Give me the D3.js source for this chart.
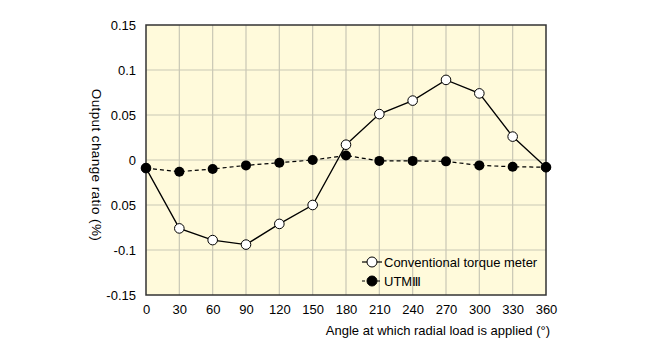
<!DOCTYPE html>
<html><head><meta charset="utf-8">
<script src="https://cdn.jsdelivr.net/npm/d3@7"></script>
<style>body{margin:0;background:#fff;} text{font-family:"Liberation Sans",Arial,sans-serif;}</style>
</head><body><svg id="c" width="650" height="350"></svg>
<script>
const angles = [0,30,60,90,120,150,180,210,240,270,300,330,360];
const conventional = [-0.009,-0.076,-0.089,-0.094,-0.071,-0.050,0.017,0.051,0.066,0.089,0.074,0.026,-0.008];
const utm = [-0.009,-0.013,-0.010,-0.006,-0.003,0.000,0.005,-0.001,-0.001,-0.0015,-0.006,-0.0075,-0.008];
const yTicks = [0.15,0.1,0.05,0,-0.05,-0.1,-0.15];
const yTickLabels = ["0.15","0.1","0.05","0","0.05","-0.1","-0.15"];
const seriesNames = ["Conventional torque meter","UTM\u2162"];

const svg = d3.select("#c");
const L=146,R=546,T=25,B=295;
const x = d3.scaleLinear().domain([0,360]).range([L,R]);
const y = d3.scaleLinear().domain([-0.15,0.15]).range([B,T]);

svg.append("rect").attr("x",L).attr("y",T).attr("width",R-L).attr("height",B-T).attr("fill","#fffadb");
const g = svg.append("g");
g.selectAll(".vg").data(angles.slice(1,-1)).enter().append("line")
 .attr("x1",d=>x(d)).attr("x2",d=>x(d)).attr("y1",T).attr("y2",B).attr("stroke","#c9c7b5").attr("stroke-width",1.2);
g.selectAll(".hg").data(yTicks.slice(1,-1)).enter().append("line")
 .attr("y1",d=>y(d)).attr("y2",d=>y(d)).attr("x1",L).attr("x2",R).attr("stroke","#c9c7b5").attr("stroke-width",1.2);

// axes
const xa = svg.append("g").attr("transform",`translate(0,${B})`).call(d3.axisBottom(x).tickValues(angles).tickSize(0).tickPadding(10).tickFormat(d3.format("d")));
xa.select(".domain").remove();
xa.selectAll("text").attr("font-size",13).attr("fill","#000").attr("font-family","Liberation Sans, Arial, sans-serif");
const ya = svg.append("g").attr("transform",`translate(${L},0)`).call(d3.axisLeft(y).tickValues(yTicks).tickSize(0).tickPadding(10).tickFormat((d,i)=>yTickLabels[i]));
ya.select(".domain").remove();
ya.selectAll("text").attr("font-size",13).attr("fill","#000").attr("font-family","Liberation Sans, Arial, sans-serif");

svg.append("rect").attr("x",L).attr("y",T).attr("width",R-L).attr("height",B-T).attr("fill","none").attr("stroke","#333").attr("stroke-width",1.5);

const line = d3.line().x((d,i)=>x(angles[i])).y(d=>y(d));
svg.append("path").datum(conventional).attr("d",line).attr("fill","none").attr("stroke","#000").attr("stroke-width",1.3);
svg.selectAll(".cm").data(conventional).enter().append("circle").attr("cx",(d,i)=>x(angles[i])).attr("cy",d=>y(d)).attr("r",4.8).attr("fill","#fff").attr("stroke","#000").attr("stroke-width",1);
svg.append("path").datum(utm).attr("d",line).attr("fill","none").attr("stroke","#000").attr("stroke-width",1.2).attr("stroke-dasharray","4,3");
svg.selectAll(".um").data(utm).enter().append("circle").attr("cx",(d,i)=>x(angles[i])).attr("cy",d=>y(d)).attr("r",5).attr("fill","#000");

// legend
const lg = svg.append("g");
[0,1].forEach(i=>{
  const ly = 262 + i*19;
  lg.append("line").attr("x1",362).attr("x2",382).attr("y1",ly).attr("y2",ly).attr("stroke","#000").attr("stroke-width",1.2).attr("stroke-dasharray", i? "3,2":null);
  lg.append("circle").attr("cx",372).attr("cy",ly).attr("r",5).attr("fill",i?"#000":"#fff").attr("stroke","#000");
  lg.append("text").attr("x",384).attr("y",ly).attr("dy","0.35em").attr("font-size",13).text(seriesNames[i]);
});

svg.append("text").attr("x",550).attr("y",335).attr("text-anchor","end").attr("font-size",13).text("Angle at which radial load is applied (\u00b0)");
svg.append("text").attr("transform","translate(92,165) rotate(90)").attr("text-anchor","middle").attr("font-size",13.5).attr("letter-spacing",0.4).text("Output change ratio (%)");
</script></body></html>
